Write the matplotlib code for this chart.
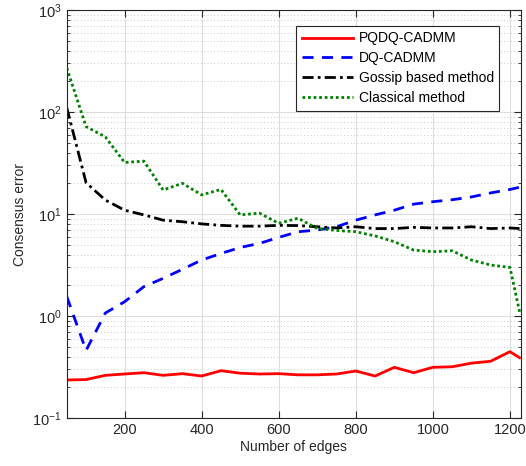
import numpy as np
import matplotlib
matplotlib.use('Agg')
import matplotlib.pyplot as plt
from matplotlib.ticker import LogLocator, NullFormatter

plt.rcParams['font.family'] = ['Liberation Sans', 'DejaVu Sans']
plt.rcParams['mathtext.fontset'] = 'custom'
plt.rcParams['mathtext.rm'] = 'Liberation Sans'

# number of edges
edges = [50, 100, 150, 200, 250, 300, 350, 400, 450, 500, 550, 600, 650,
         700, 750, 800, 850, 900, 950, 1000, 1050, 1100, 1150, 1200, 1225]

pqdq = [0.236, 0.238, 0.262, 0.27, 0.278, 0.262, 0.272, 0.258, 0.291, 0.275,
        0.27, 0.272, 0.265, 0.265, 0.27, 0.289, 0.258, 0.314, 0.278, 0.314,
        0.318, 0.345, 0.36, 0.447, 0.39]
dq = [1.55, 0.46, 1.07, 1.38, 1.94, 2.34, 2.87, 3.54, 4.1, 4.7,
      5.15, 5.9, 6.7, 6.96, 7.5, 8.7, 9.8, 10.9, 12.5, 13.2,
      13.8, 14.7, 16.1, 17.4, 18.3]
gossip = [110, 20.3, 13.7, 10.9, 9.8, 8.7, 8.4, 8.0, 7.74, 7.6,
          7.6, 7.74, 7.7, 7.5, 7.3, 7.5, 7.2, 7.2, 7.4, 7.3,
          7.3, 7.5, 7.2, 7.3, 7.2]
classical = [270, 72, 57, 32, 33, 17.2, 20, 15.4, 17.4, 9.8,
             10.2, 8.1, 9.1, 7.2, 6.9, 6.7, 6.1, 5.35, 4.43, 4.27,
             4.36, 3.54, 3.16, 3.0, 1.1]

fig = plt.figure(figsize=(5.26, 4.66), dpi=100)
ax = fig.add_axes([0.127, 0.103, 0.863, 0.8755])

ax.semilogy(edges, pqdq, color='#ff0000', lw=2, label='PQDQ-CADMM')
ax.semilogy(edges, dq, color='#0000ff', lw=2, ls=(0, (4, 3)), label='DQ-CADMM')
ax.semilogy(edges, gossip, color='black', lw=2, ls=(0, (4, 1.5, 1, 1.5)),
            label='Gossip based method')
ax.semilogy(edges, classical, color='#008000', lw=2, ls=(0, (1, 1)),
            label='Classical method')

ax.set_xlim(50, 1228)
ax.set_ylim(0.1, 1000)
ax.set_xticks([200, 400, 600, 800, 1000, 1200])
ax.yaxis.set_major_locator(LogLocator(base=10, numticks=10))
ax.yaxis.set_minor_locator(LogLocator(base=10, subs=np.arange(2, 10), numticks=20))
ax.yaxis.set_minor_formatter(NullFormatter())

ax.grid(True, which='major', color='#dddddd', lw=0.8, ls='-')
ax.grid(True, which='minor', axis='y', color='#bbbbbb', lw=0.6, ls=(0, (1, 3)))
ax.set_axisbelow(True)

ax.tick_params(which='both', direction='in', top=True, right=True,
               labelsize=10.5, colors='#262626')
ax.tick_params(which='major', length=5)
ax.tick_params(which='minor', length=2.5)
for s in ax.spines.values():
    s.set_color('#262626')
    s.set_linewidth(0.8)

ax.set_xlabel('Number of edges', fontsize=10, color='#262626', labelpad=2)
ax.set_ylabel('Consensus error', fontsize=10, color='#262626', labelpad=4)

leg = ax.legend(loc='upper right', bbox_to_anchor=(0.953, 0.961), fontsize=10,
                fancybox=False, framealpha=1, edgecolor='#262626',
                handlelength=3.7, borderpad=0.4, labelspacing=0.42,
                handletextpad=0.4, borderaxespad=0)
leg.get_frame().set_linewidth(0.8)

fig.savefig('out.png', dpi=100)
